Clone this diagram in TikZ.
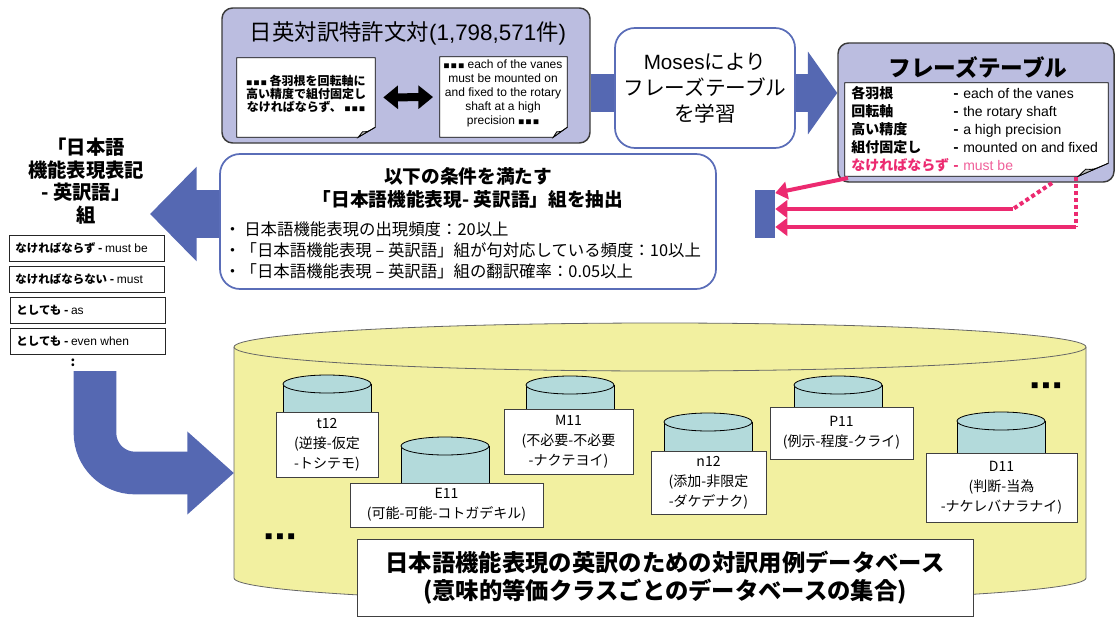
\documentclass[tikz,border=0pt]{standalone}
\usepackage{fontspec}
\setmainfont{Noto Sans CJK JP}
\newfontfamily\en{Liberation Sans}
\usetikzlibrary{arrows.meta,fit,calc,backgrounds}

\definecolor{lav}{HTML}{BBBDE0}
\definecolor{bandblue}{HTML}{5568B2}
\definecolor{edgeblue}{HTML}{5A6DB8}
\definecolor{edgegray}{HTML}{3A3A3A}
\definecolor{dbyellow}{HTML}{F2F0A0}
\definecolor{cylcyan}{HTML}{B3DADB}
\definecolor{hotpink}{HTML}{EC2A70}
\definecolor{softpink}{HTML}{F0609A}

\tikzset{
  lavbox/.style={draw=edgegray, fill=lav, rounded corners=8pt, line width=1.1pt, inner sep=0pt},
  bluebox/.style={draw=edgeblue, fill=white, rounded corners=15pt, line width=1.3pt, inner sep=0pt},
  listbox/.style={draw=black!85, fill=white, line width=0.7pt, inner sep=0pt},
  tagbox/.style={draw=black!75, fill=white, line width=0.6pt, inner sep=0pt},
  page/.style={inner sep=0pt},
  band/.style={draw=bandblue, line width=#1},
  pinkline/.style={draw=hotpink, line width=3pt, -{Triangle[length=9pt,width=13pt]}},
  pinkdots/.style={draw=hotpink, line width=3pt, dash pattern=on 3pt off 2.2pt},
  txt/.style={inner sep=0pt, align=center},
}

% small square dots
\newcommand\sqdots{{\normalfont\fontsize{4.5}{6}\selectfont ■\hspace{1pt}■\hspace{1pt}■}}
\newcommand\bigdots{{\fontsize{5.5}{6}\selectfont ■\hspace{3pt}■\hspace{3pt}■}}
% page with a folded corner, drawn round a fit node
\newcommand\foldpage[3]{%
  \draw[fill=white, line width=0.6pt]
    (#1.north west) -- (#1.north east) -- ($(#1.south east)+(0,-#3)$)
    -- ($(#1.south east)+(-#2,0)$) -- (#1.south west) -- cycle;
  \draw[fill=gray!55, line width=0.6pt]
    ($(#1.south east)+(0,-#3)$) .. controls ($(#1.south east)+(-0.5*#2,-0.5*#3)$) .. ($(#1.south east)+(-0.75*#2,-0.55*#3)$)
    -- ($(#1.south east)+(-#2,0)$) -- cycle;
}
% small database cylinder: centre x, top y, bottom y
\newcommand\minidb[3]{%
  \fill[cylcyan] (#1-44,#2+9) rectangle (#1+44,#3);
  \draw[line width=0.6pt] (#1-44,#2+9) -- (#1-44,#3) (#1+44,#2+9) -- (#1+44,#3);
  \draw[fill=cylcyan, line width=0.6pt] (#1,#2+9) ellipse[x radius=44, y radius=9];
}
\newcommand\jaterm[2]{\makebox[76.5pt][l]{\bfseries #1}\makebox[7.5pt][l]{\bfseries -}{\en #2}}
\newcommand\pairtext[2]{{\bfseries\fontsize{8.6}{10}\selectfont #1 - }{\en\fontsize{9}{10}\selectfont #2}}

\begin{document}
\begin{tikzpicture}[x=0.75pt, y=-0.75pt]
\useasboundingbox (0,0) rectangle (1116,617);

% corpus
\node[lavbox, fit={(222,8) (590,143)}] (corpus) {};
\node[txt, font=\fontsize{16.8}{20}\selectfont] (corpustitle) at (408,33) {日英対訳特許文対{\en(1,798,571}件{\en)}};
\node[page, fit={(237,58) (375,137)}] (jpdoc) {};
\foldpage{jpdoc}{17}{10}
\node[txt, font=\bfseries\fontsize{9}{9.9}\selectfont] (jptext) at (306,94) {\sqdots\ 各羽根を回転軸に\\高い精度で組付固定し\\なければならず、 \sqdots};
\node[page, fit={(440,57) (567,137)}] (endoc) {};
\foldpage{endoc}{14}{10}
\node[txt, font=\en\fontsize{9}{10.5}\selectfont] (entext) at (503,93) {\sqdots{} each of the vanes\\must be mounted on\\and fixed to the rotary\\shaft at a high\\precision \sqdots};
\draw[line width=6pt, {Triangle[length=11pt,width=17pt]}-{Triangle[length=11pt,width=17pt]}, shorten <=6pt, shorten >=5pt] (jpdoc.east) -- (endoc.west);

% moses
\node[bluebox, fit={(615,28) (795,148)}] (moses) {};
\node[txt, font=\fontsize{15.5}{19.5}\selectfont] (mosestext) at (moses) {{\en Moses}により\\フレーズテーブル\\を学習};

% phrase table
\node[lavbox, fit={(838,43) (1114,182)}] (phrase) {};
\node[txt, font=\bfseries\fontsize{17}{20}\selectfont] (phrasetitle) at (978,67) {フレーズテーブル};
\node[page, fit={(845,83) (1108,176)}] (phrasedoc) {};
\foldpage{phrasedoc}{30}{13}
\node[inner sep=0pt, anchor=west, align=left, font=\fontsize{10.5}{13.5}\selectfont] (phraserows) at (851,129) {%
  \jaterm{各羽根}{each of the vanes}\\
  \jaterm{回転軸}{the rotary shaft}\\
  \jaterm{高い精度}{a high precision}\\
  \jaterm{組付固定し}{mounted on and fixed}\\
  \makebox[76.5pt][l]{\bfseries\color{hotpink}なければならず}\makebox[7.5pt][l]{\bfseries\color{hotpink}-}{\en\color{softpink}must be}};

% extraction
\node[bluebox, fit={(220,154) (716,289)}] (extract) {};
\node[txt, font=\bfseries\fontsize{14}{17}\selectfont] (extracttitle) at (468,188) {以下の条件を満たす\\「日本語機能表現- 英訳語」組を抽出};
\node[inner sep=0pt, anchor=west, align=left, font=\fontsize{12.3}{15.75}\selectfont] (criteria) at (224,250) {・ 日本語機能表現の出現頻度：20以上\\・「日本語機能表現 – 英訳語」組が句対応している頻度：10以上\\・「日本語機能表現 – 英訳語」組の翻訳確率：0.05以上};
\node[fill=bandblue, inner sep=0pt, fit={(755,190) (775,238)}] (feed) {};

% pairs
\node[txt, font=\bfseries\fontsize{14.5}{17}\selectfont] (pairlabel) at (86,181) {「日本語\\機能表現表記\\- 英訳語」\\組};
\node[listbox, fit={(9,235) (164,261)}] (pair1) {};
\node[listbox, fit={(9,266) (164,292)}] (pair2) {};
\node[listbox, fit={(10,297) (165,323)}] (pair3) {};
\node[listbox, fit={(10,328) (165,354)}] (pair4) {};
\node[anchor=west, inner sep=0pt] (pair1text) at ([xshift=5pt]pair1.west) {\pairtext{なければならず}{must be}};
\node[anchor=west, inner sep=0pt] (pair2text) at ([xshift=5pt]pair2.west) {\pairtext{なければならない}{must}};
\node[anchor=west, inner sep=0pt] (pair3text) at ([xshift=5pt]pair3.west) {\pairtext{としても}{as}};
\node[anchor=west, inner sep=0pt] (pair4text) at ([xshift=5pt]pair4.west) {\pairtext{としても}{even when}};
\node[inner sep=0pt, font=\bfseries\fontsize{10}{10}\selectfont] (paircont) at (73,363) {:};

% database
\fill[dbyellow] (234,347) -- (234,578) arc[start angle=180, end angle=0, x radius=426, y radius=24] -- (1086,347) -- cycle;
\draw[draw=gray!80!black, line width=0.6pt] (234,347) -- (234,578) arc[start angle=180, end angle=0, x radius=426, y radius=24] -- (1086,347);
\draw[draw=gray!80!black, fill=dbyellow, line width=0.6pt] (660,347) ellipse[x radius=426, y radius=24];

\minidb{327}{375}{412}
\minidb{445}{437}{483}
\minidb{570}{376}{409}
\minidb{708}{413}{451}
\minidb{838}{376}{407}
\minidb{1001}{412}{453}

\node[tagbox, fit={(276,412) (378,477)}] (t12) {};
\node[tagbox, fit={(350,483) (543,527)}] (e11) {};
\node[tagbox, fit={(504,409) (633,474)}] (m11) {};
\node[tagbox, fit={(651,451) (766,514)}] (n12) {};
\node[tagbox, fit={(770,407) (913,459)}] (p11) {};
\node[tagbox, fit={(926,453) (1077,522)}] (d11) {};
\begin{scope}[every node/.style={txt, font=\fontsize{10.5}{15}\selectfont}]
\node (t12text) at (t12) {t12\\(逆接-仮定\\-トシテモ)};
\node (e11text) at (e11) {E11\\(可能-可能-コトガデキル)};
\node (m11text) at (m11) {M11\\(不必要-不必要\\-ナクテヨイ)};
\node (n12text) at (n12) {n12\\(添加-非限定\\-ダケデナク)};
\node (p11text) at (p11) {P11\\(例示-程度-クライ)};
\node (d11text) at (d11) {D11\\(判断-当為\\-ナケレバナラナイ)};
\end{scope}
\node[inner sep=0pt] (moreleft) at (280,537) {\bigdots};
\node[inner sep=0pt] (moreright) at (1046,386) {\bigdots};

\node[tagbox, fit={(357,539) (973,616)}] (dbtitle) {};
\node[txt, font=\bfseries\fontsize{17.5}{21}\selectfont] (dbtitletext) at (dbtitle) {日本語機能表現の英訳のための対訳用例データベース\\(意味的等価クラスごとのデータベースの集合)};

% flows
\coordinate (flowmid) at (600,93);
\coordinate (pairtip) at (150,214);
\coordinate (bendtop) at (95,371);
\coordinate (dbwest) at (234,473);
\begin{pgfonlayer}{background}
\draw[band=29pt] (corpus.east |- flowmid) -- (moses.west |- flowmid);
\draw[band=28pt, -{Triangle[length=22pt,width=61pt]}] (moses.east |- flowmid) -- (phrase.west |- flowmid);
\draw[band=36pt, -{Triangle[length=35pt,width=69pt]}] (extract.west |- pairtip) -- (pairtip);
\end{pgfonlayer}
\draw[band=32pt, rounded corners=30pt, -{Triangle[length=35pt,width=60pt]}] (bendtop) |- (dbwest);

% pink links
\coordinate (mustsrc) at (848,178);
\coordinate (dotA) at (1052,183);
\coordinate (bendA) at (1013,209);
\coordinate (dotB) at (1076,177);
\coordinate (bendB) at (1076,227);
\draw[pinkline] (mustsrc) -- (feed.east |- 0,193);
\draw[pinkdots] (dotA) -- (bendA);
\draw[pinkline] (bendA) -- (feed.east |- bendA);
\draw[pinkdots] (dotB) -- (bendB);
\draw[pinkline] (bendB) -- (feed.east |- bendB);
\end{tikzpicture}
\end{document}
